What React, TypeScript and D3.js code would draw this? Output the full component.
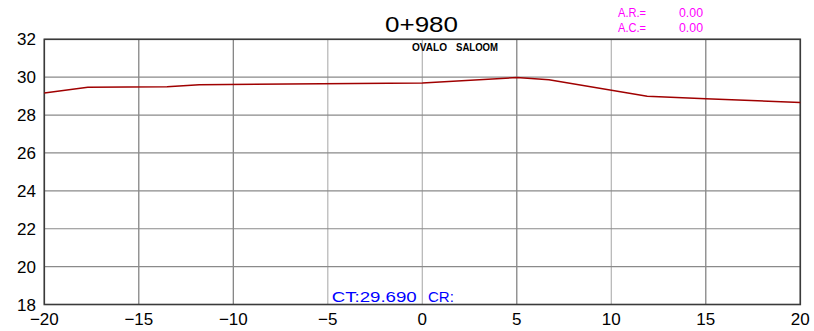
import React from "react";
import * as d3 from "d3";

const W = 814;
const H = 331;

const offsets = [-20, -17.7, -13.5, -11.8, 0, 5, 6.7, 11.9, 15, 20];
const elevations = [29.16, 29.47, 29.49, 29.6, 29.69, 29.98, 29.87, 28.99, 28.86, 28.66];

const xTicks = [-20, -15, -10, -5, 0, 5, 10, 15, 20];
const yTicks = [18, 20, 22, 24, 26, 28, 30, 32];

const title = "0+980";
const subtitleWords = ["OVALO", "SALOOM"];
const arLabel = "A.R.=";
const acLabel = "A.C.=";
const arValue = "0.00";
const acValue = "0.00";
const ctLabel = "CT:29.690";
const crLabel = "CR:";

export default function App() {
  const x = d3.scaleLinear().domain([-20, 20]).range([44.3, 800.3]);
  const y = d3.scaleLinear().domain([18, 32]).range([304.5, 39.3]);
  const line = d3
    .line<number>()
    .x((_, i) => x(offsets[i]))
    .y((d) => y(d));
  const font = "'Liberation Sans', Arial, sans-serif";
  const fmt = (v: number) => (v < 0 ? "\u2212" + Math.abs(v) : String(v));

  return (
    <svg
      width={W}
      height={H}
      style={{ position: "absolute", left: 0, top: 0, background: "#fff" }}
      fontFamily={font}
    >
      {xTicks.map((t) => (
        <line
          key={"gx" + t}
          x1={x(t)}
          x2={x(t)}
          y1={y(32)}
          y2={y(18)}
          stroke={[-15, -10, 5, 15].includes(t) ? "#7a7a7a" : "#b4b4b4"}
          strokeWidth={1.2}
        />
      ))}
      {yTicks.map((t) => (
        <line
          key={"gy" + t}
          x1={x(-20)}
          x2={x(20)}
          y1={y(t)}
          y2={y(t)}
          stroke="#8a8a8a"
          strokeWidth={1.2}
        />
      ))}
      <rect
        x={x(-20)}
        y={y(32)}
        width={x(20) - x(-20)}
        height={y(18) - y(32)}
        fill="none"
        stroke="#3a3a3a"
        strokeWidth={1.6}
      />
      <path d={line(elevations) || ""} fill="none" stroke="#a00000" strokeWidth={1.5} />
      {yTicks.map((t) => (
        <text key={"ly" + t} x={36} y={y(t) + 6} fontSize={17} textAnchor="end" fill="#000">
          {t}
        </text>
      ))}
      {xTicks.map((t) => (
        <text key={"lx" + t} x={x(t)} y={325} fontSize={17} textAnchor="middle" fill="#000">
          {fmt(t)}
        </text>
      ))}
      <text x={385} y={32} fontSize={22} textLength={73} lengthAdjust="spacingAndGlyphs" fill="#000">
        {title}
      </text>
      <text x={412} y={50.7} fontSize={11} fontWeight="bold" textLength={35} lengthAdjust="spacingAndGlyphs" fill="#000">
        {subtitleWords[0]}
      </text>
      <text x={456} y={50.7} fontSize={11} fontWeight="bold" textLength={42} lengthAdjust="spacingAndGlyphs" fill="#000">
        {subtitleWords[1]}
      </text>
      <text x={618} y={16.7} fontSize={13} textLength={28} lengthAdjust="spacingAndGlyphs" fill="#ff00ff">
        {arLabel}
      </text>
      <text x={679} y={16.7} fontSize={13} textLength={24} lengthAdjust="spacingAndGlyphs" fill="#ff00ff">
        {arValue}
      </text>
      <text x={618} y={31.7} fontSize={13} textLength={28} lengthAdjust="spacingAndGlyphs" fill="#ff00ff">
        {acLabel}
      </text>
      <text x={679} y={31.7} fontSize={13} textLength={24} lengthAdjust="spacingAndGlyphs" fill="#ff00ff">
        {acValue}
      </text>
      <text x={331.7} y={302} fontSize={15} textLength={85} lengthAdjust="spacingAndGlyphs" fill="#0000ff">
        {ctLabel}
      </text>
      <text x={428} y={302} fontSize={15} fill="#0000ff">
        {crLabel}
      </text>
    </svg>
  );
}
